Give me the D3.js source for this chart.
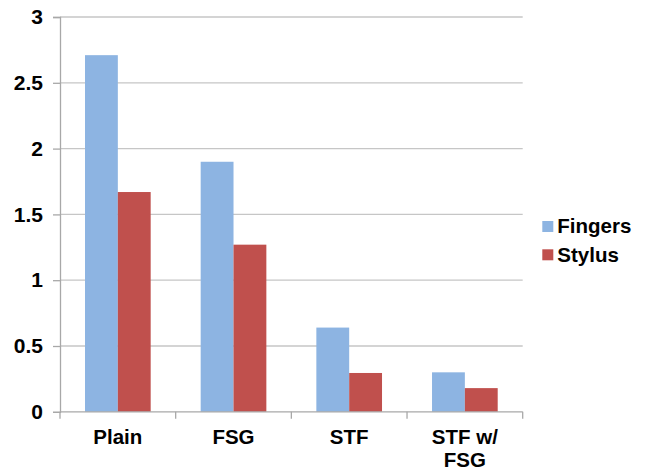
<!DOCTYPE html>
<html>
<head>
<meta charset="utf-8">
<script src="https://cdn.jsdelivr.net/npm/d3@7"></script>
<style>
  html, body { margin: 0; padding: 0; background: #fff; }
  svg { display: block; }
  text { font-family: "Liberation Sans", Arial, sans-serif; font-weight: bold; fill: #000; }
</style>
</head>
<body>
<svg id="chart" width="647" height="473"></svg>
<script>
const categories = [["Plain"], ["FSG"], ["STF"], ["STF w/", "FSG"]];
const seriesNames = ["Fingers", "Stylus"];
const fingers = [2.71, 1.9, 0.64, 0.3];
const stylus = [1.67, 1.27, 0.295, 0.18];
const yTicks = [0, 0.5, 1, 1.5, 2, 2.5, 3];
const colors = ["#8DB4E2", "#C0504D"];

(function () {
const svg = d3.select("#chart");
const mLeft = 60, mRight = 522.7, mTop = 17, mBottom = 411.8;

const x0 = d3.scaleBand().domain(d3.range(categories.length)).range([mLeft, mRight]).padding(0);
const x1 = d3.scaleBand().domain(seriesNames).range([25, x0.bandwidth() - 25]).padding(0);
const y = d3.scaleLinear().domain([0, 3]).range([mBottom, mTop]);

// gridlines
svg.append("g").selectAll("line").data(yTicks.filter(d => d > 0)).join("line")
  .attr("x1", mLeft).attr("x2", mRight)
  .attr("y1", d => y(d)).attr("y2", d => y(d))
  .attr("stroke", "#c6c6c6").attr("stroke-width", 1.3);

// bars
const data = [fingers, stylus];
const g = svg.append("g");
seriesNames.forEach((s, si) => {
  g.selectAll(null).data(data[si]).join("rect")
    .attr("x", (d, i) => x0(i) + x1(s))
    .attr("y", d => y(d))
    .attr("width", x1.bandwidth())
    .attr("height", d => y(0) - y(d))
    .attr("fill", colors[si]);
});

// y axis
const yAxis = d3.axisLeft(y).tickValues(yTicks).tickSize(7).tickPadding(10).tickFormat(d => String(d));
const ya = svg.append("g").attr("transform", `translate(${mLeft},0)`).call(yAxis);
ya.select(".domain").attr("stroke", "#a8a8a8").attr("stroke-width", 1.3);
ya.selectAll(".tick line").attr("stroke", "#a8a8a8").attr("stroke-width", 1.3);
ya.selectAll(".tick text").style("font-size", "21px").style("font-family", "Liberation Sans, Arial, sans-serif").style("font-weight", "bold").attr("fill", "#000");

// x axis baseline and ticks at band boundaries
svg.append("line").attr("x1", mLeft).attr("x2", mRight).attr("y1", y(0)).attr("y2", y(0))
  .attr("stroke", "#a8a8a8").attr("stroke-width", 1.3);
const bounds = d3.range(categories.length + 1).map(i => i < categories.length ? x0(i) : x0(i - 1) + x0.bandwidth());
svg.append("g").selectAll("line").data(bounds).join("line")
  .attr("x1", d => d).attr("x2", d => d).attr("y1", y(0)).attr("y2", y(0) + 7)
  .attr("stroke", "#a8a8a8").attr("stroke-width", 1.3);

// category labels
const cl = svg.append("g").selectAll("text").data(categories).join("text")
  .attr("text-anchor", "middle")
  .style("font-size", "20.5px");
cl.each(function(lines, i) {
  const t = d3.select(this);
  lines.forEach((ln, j) => {
    t.append("tspan").attr("x", x0(i) + x0.bandwidth() / 2).attr("y", 444 + j * 23).text(ln);
  });
});

// legend
const lg = svg.append("g").selectAll("g").data(seriesNames).join("g")
  .attr("transform", (d, i) => `translate(542.3, ${221 + i * 28.3})`);
lg.append("rect").attr("width", 11).attr("height", 11).attr("fill", (d, i) => colors[i]);
lg.append("text").attr("x", 15).attr("y", 12.3).style("font-size", "20.5px").text(d => d);
})();
</script>
</body>
</html>
